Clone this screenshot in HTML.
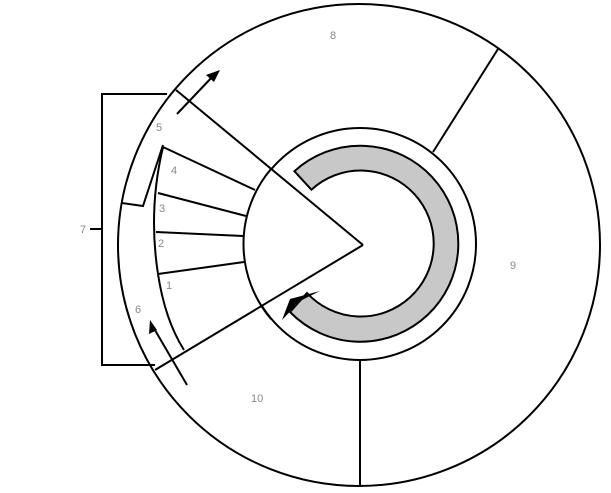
<!DOCTYPE html>
<html><head><meta charset="utf-8"><style>
html,body{margin:0;padding:0;background:#fff}
svg{display:block}
text{font-family:"Liberation Sans",sans-serif;font-size:11px;fill:#888}
</style></head><body>
<svg width="611" height="493" viewBox="0 0 611 493" xmlns="http://www.w3.org/2000/svg">
<g stroke="#000" stroke-width="2" fill="none">
<circle cx="359" cy="245" r="241" fill="#fff"/>
<path d="M167,94 L102,94 L102,365 L155,365"/>
<line x1="90" y1="229" x2="102" y2="229"/>
<line x1="433" y1="152" x2="498" y2="49"/>
<line x1="360" y1="360" x2="360" y2="485"/>
<circle cx="360" cy="244" r="116" fill="#fff"/>
<path d="M294.4,171.2 A98,98 0 1 1 290,312 L307,293 A73,73 0 1 0 311.4,189.7 Z" fill="#c8c8c8"/>
<polygon points="282,320 290,299 320,291 300,301" fill="#000" stroke="none"/>
<polygon points="363,245 176,90 155,370" fill="#fff" stroke="none"/>
<line x1="363" y1="245" x2="176" y2="90"/>
<line x1="363" y1="245" x2="155" y2="370"/>
<path d="M271,169 A116,116 0 0 0 271,319"/>
<path d="M163,147 Q148,210 158,274 Q165,320 184,350"/>
<polyline points="163,145 143,206 122,203"/>
<line x1="163" y1="147" x2="255" y2="190"/>
<line x1="158" y1="193" x2="246" y2="216"/>
<line x1="156" y1="232" x2="243" y2="236"/>
<line x1="158" y1="274" x2="244" y2="262"/>
<line x1="177" y1="114" x2="214" y2="75"/>
<line x1="187" y1="385" x2="152" y2="325"/>
</g>
<polygon points="220,70 206,75 214,82" fill="#000"/>
<polygon points="150,320 149,334 157,330" fill="#000"/>
<text x="330" y="39">8</text>
<text x="510" y="269">9</text>
<text x="251" y="402">10</text>
<text x="80" y="233">7</text>
<text x="156" y="131">5</text>
<text x="171" y="174">4</text>
<text x="159" y="212">3</text>
<text x="158" y="247">2</text>
<text x="166" y="289">1</text>
<text x="135" y="313">6</text>
</svg>
</body></html>
